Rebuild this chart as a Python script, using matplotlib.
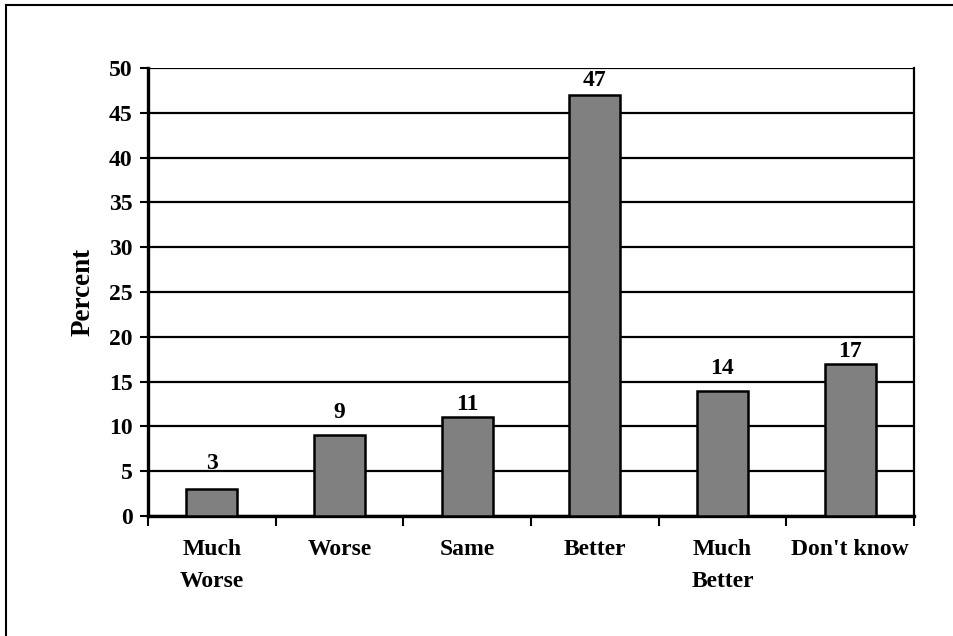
import matplotlib
matplotlib.use("Agg")
import matplotlib.pyplot as plt
from matplotlib.lines import Line2D

categories = ["Much\nWorse", "Worse", "Same", "Better", "Much\nBetter", "Don't know"]
percent = [3, 9, 11, 47, 14, 17]
y_ticks = [0, 5, 10, 15, 20, 25, 30, 35, 40, 45, 50]

# vertical gap (points) between each bar top and its value label
label_gap = [11, 9, 2, 3, 8, 1]

plt.rcParams["font.family"] = ["Liberation Serif", "DejaVu Serif"]
plt.rcParams["font.weight"] = "bold"

W, H = 954, 636
fig = plt.figure(figsize=(W / 100, H / 100), dpi=100)

# outer frame: top and left edges
fx, fy = 6 / W, 1 - 5 / H
fig.add_artist(Line2D([fx, fx], [0, fy], transform=fig.transFigure, color="black", linewidth=1.5))
fig.add_artist(Line2D([fx, 1], [fy, fy], transform=fig.transFigure, color="black", linewidth=1.5))

left, right, top, bottom = 148, 914, 68, 516
ax = fig.add_axes([left / W, 1 - bottom / H, (right - left) / W, (bottom - top) / H])

x = list(range(len(categories)))
ax.bar(x, percent, width=0.4, color="#808080", edgecolor="black", linewidth=1.8, zorder=3)
for xi, v, g in zip(x, percent, label_gap):
    ax.annotate(str(v), (xi, v), xytext=(0, g), textcoords="offset points",
                ha="center", va="bottom", fontsize=17, fontweight="bold", zorder=4)

ax.set_xlim(-0.5, len(categories) - 0.5)
ax.set_ylim(0, 50)
ax.set_yticks(y_ticks)
ax.yaxis.grid(True, color="black", linewidth=1.6, zorder=0)
ax.set_axisbelow(True)

ax.set_xticks([i - 0.5 for i in range(len(categories) + 1)])
ax.set_xticklabels([])
ax.tick_params(axis="x", direction="out", length=7, width=1.5)
ax.tick_params(axis="y", direction="out", length=6, width=1.5, labelsize=17, pad=5)
for lbl in ax.get_yticklabels():
    lbl.set_fontweight("bold")
for xi, c in zip(x, categories):
    ax.text(xi, -2.6, c, ha="center", va="top", fontsize=17, fontweight="bold",
            linespacing=1.65)

for s in ["left", "bottom"]:
    ax.spines[s].set_linewidth(2.4)
ax.spines["right"].set_linewidth(1.6)
ax.spines["top"].set_visible(False)

ax.set_ylabel("Percent", fontsize=19.5, fontweight="bold", labelpad=10)

fig.savefig("out.png", dpi=100)
